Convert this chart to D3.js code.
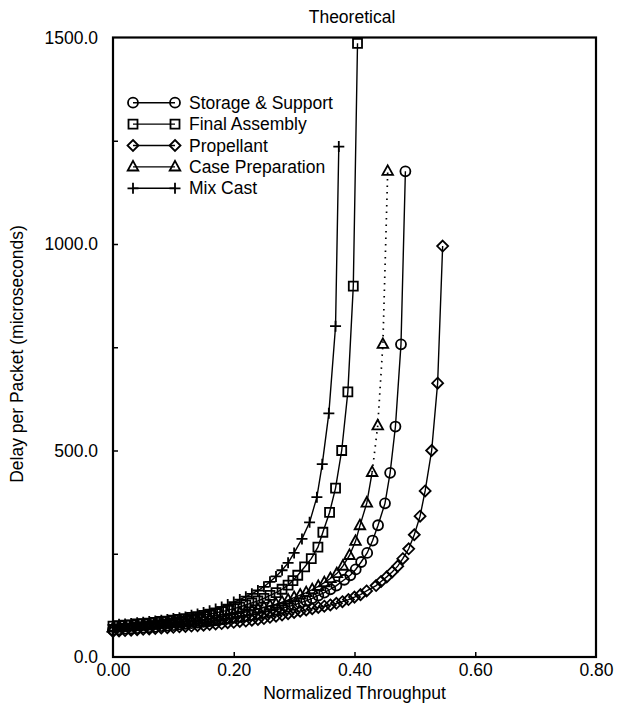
<!DOCTYPE html>
<html>
<head>
<meta charset="utf-8">
<script src="https://cdn.jsdelivr.net/npm/d3@7"></script>
<style>
  body { margin: 0; background: #fff; }
  text { font-family: "Liberation Sans", Arial, Helvetica, sans-serif; fill: #000; }
</style>
</head>
<body>
<svg id="chart" width="618" height="709"></svg>
<script>
// ---------------- DATA ----------------
const chartTitle = "Theoretical";
const xAxisTitle = "Normalized Throughput";
const yAxisTitle = "Delay per Packet (microseconds)";
const seriesNames = ["Storage & Support", "Final Assembly", "Propellant", "Case Preparation", "Mix Cast"];
const xTickValues = [0.0, 0.2, 0.4, 0.6, 0.8];
const yTickValues = [0, 250, 500, 750, 1000, 1250, 1500];
const yLabelValues = [0, 500, 1000, 1500];

// Storage & Support
const xStorage = [0.00,0.01,0.02,0.03,0.04,0.05,0.06,0.07,0.08,0.09,0.10,0.11,0.12,0.13,0.14,0.15,0.16,0.17,0.18,0.19,
  0.20,0.21,0.22,0.23,0.24,0.25,0.26,0.27,0.28,0.29,0.30,0.31,0.32,0.33,0.34,0.35,0.36,0.37,
  0.383,0.393,0.402,0.411,0.421,0.430,0.439,0.4505,0.459,0.4678,0.477,0.4843];
const yStorage = [66,67,68,69,70,71,72,73,75,76,77,79,80,82,83,85,87,89,91,93,
  95,97,100,102,105,108,111,114,118,122,126,131,136,142,149,156,164,173,
  187,198,212,230,252,282,319,372,446,558,757,1176];

// Final Assembly
const xFinal = [0.00,0.01,0.02,0.03,0.04,0.05,0.06,0.07,0.08,0.09,0.10,0.11,0.12,0.13,0.14,0.15,0.16,0.17,0.18,0.19,
  0.20,0.21,0.22,0.23,0.24,0.25,0.26,0.27,0.28,0.29,
  0.298,0.306,0.3174,0.3284,0.3394,0.3476,0.3587,0.3686,0.3788,0.389,0.398,0.405];
const yFinal = [75,76,77,78,80,81,82,84,86,87,89,91,93,96,98,101,104,107,110,113,
  117,121,126,131,136,142,149,156,164,174,
  185,198,218,238,266,302,350,409,500,642,898,1486];

// Propellant
const xPropellant = [0.00,0.01,0.02,0.03,0.04,0.05,0.06,0.07,0.08,0.09,0.10,0.11,0.12,0.13,0.14,0.15,0.16,0.17,0.18,0.19,
  0.20,0.21,0.22,0.23,0.24,0.25,0.26,0.27,0.28,0.29,0.30,0.31,0.32,0.33,0.34,0.35,0.36,0.37,0.38,0.39,0.40,0.41,0.42,
  0.4358,0.444,0.4534,0.4623,0.4716,0.480,0.4898,0.499,0.5086,0.517,0.5278,0.5377,0.546];
const yPropellant = [62,63,64,65,66,67,68,69,70,71,72,73,74,75,76,77,79,80,81,83,
  84,86,87,89,91,93,96,99,102,105,108,111,114,117,120,123,126,130,134,139,145,151,160,
  173,183,194,206,220,238,262,296,341,402,500,663,995];

// Case Preparation
const xCase = [0.00,0.01,0.02,0.03,0.04,0.05,0.06,0.07,0.08,0.09,0.10,0.11,0.12,0.13,0.14,0.15,0.16,0.17,0.18,0.19,
  0.20,0.21,0.22,0.23,0.24,0.25,0.26,0.27,0.28,0.29,0.30,0.31,0.32,0.33,0.34,0.35,0.36,
  0.3707,0.3807,0.3917,0.4017,0.409,0.4204,0.4292,0.4385,0.447,0.455];
const yCase = [70,71,72,73,74,75,76,78,79,81,82,84,86,87,89,91,93,96,98,101,
  103,106,109,112,116,120,124,128,133,138,144,150,156,163,171,180,190,
  202,220,246,280,318,373,447,560,757,1176];

// Mix Cast
const xMix = [0.00,0.01,0.02,0.03,0.04,0.05,0.06,0.07,0.08,0.09,0.10,0.11,0.12,0.13,0.14,0.15,0.16,0.17,0.18,0.19,
  0.20,0.21,0.22,0.23,0.24,0.25,0.26,0.27,0.28,0.29,0.30,
  0.313,0.3256,0.3377,0.3466,0.3575,0.3686,0.374];
const yMix = [78,79,80,81,83,84,86,87,89,91,93,95,97,101,104,108,112,116,121,127,
  133,139,146,153,161,170,182,195,210,228,252,
  286,326,387,467,590,801,1236];

// ---------------- DRAWING ----------------
const svg = d3.select("#chart");
const x = d3.scaleLinear().domain([0, 0.8]).range([113, 596]);
const y = d3.scaleLinear().domain([0, 1500]).range([657, 37.5]);
const FONT = 17.5;

const markerPaths = {
  circle: "M5,0A5,5 0 1,1 -5,0A5,5 0 1,1 5,0Z",
  square: "M-4.5,-4.5H4.5V4.5H-4.5Z",
  diamond: "M0,-5.5L5.5,0L0,5.5L-5.5,0Z",
  triangle: "M0,-6L5.3,3.6L-5.3,3.6Z",
  plus: "M-5.5,0H5.5M0,-5.5V5.5"
};

const series = [
  { name: seriesNames[0], xs: xStorage, ys: yStorage, marker: "circle" },
  { name: seriesNames[1], xs: xFinal, ys: yFinal, marker: "square" },
  { name: seriesNames[2], xs: xPropellant, ys: yPropellant, marker: "diamond" },
  { name: seriesNames[3], xs: xCase, ys: yCase, marker: "triangle", dottedTail: 3 },
  { name: seriesNames[4], xs: xMix, ys: yMix, marker: "plus" }
];

// Axes (inward ticks)
const xAxis = d3.axisBottom(x).tickValues(xTickValues).tickSize(-5).tickPadding(7)
  .tickFormat(d3.format(".2f"));
const yAxis = d3.axisLeft(y).tickValues(yTickValues).tickSize(-5).tickPadding(15)
  .tickFormat(d => yLabelValues.includes(d) ? d3.format(".1f")(d) : "");

const gx = svg.append("g").attr("transform", `translate(0,${y(0)})`).call(xAxis);
const gy = svg.append("g").attr("transform", `translate(${x(0)},0)`).call(yAxis);
[gx, gy].forEach(g => {
  g.select(".domain").remove();
  g.selectAll(".tick line").attr("stroke", "#000").attr("stroke-width", 1.5);
  g.selectAll(".tick text").attr("font-size", FONT)
    .attr("font-family", '"Liberation Sans", Arial, sans-serif').attr("fill", "#000");
});
gx.selectAll(".tick line").filter(d => d === 0 || d === 0.8).remove();
gy.selectAll(".tick line").filter(d => d === 0 || d === 1500).remove();

// Frame
svg.append("rect")
  .attr("x", x(0)).attr("y", y(1500))
  .attr("width", x(0.8) - x(0)).attr("height", y(0) - y(1500))
  .attr("fill", "none").attr("stroke", "#000").attr("stroke-width", 2.2);

// Titles
svg.append("text").attr("x", 352).attr("y", 23).attr("text-anchor", "middle")
  .attr("font-size", FONT).text(chartTitle);
svg.append("text").attr("x", (x(0) + x(0.8)) / 2).attr("y", 699).attr("text-anchor", "middle")
  .attr("font-size", FONT).text(xAxisTitle);
svg.append("text").attr("transform", "translate(23,354) rotate(-90)").attr("text-anchor", "middle")
  .attr("font-size", FONT).text(yAxisTitle);

// Series
const line = d3.line().x(d => x(d[0])).y(d => y(d[1]));
series.forEach(s => {
  const pts = s.xs.map((v, i) => [v, s.ys[i]]);
  const g = svg.append("g");
  if (s.dottedTail) {
    const k = pts.length - 1 - s.dottedTail;
    g.append("path").attr("d", line(pts.slice(0, k + 1)))
      .attr("fill", "none").attr("stroke", "#000").attr("stroke-width", 1.4);
    g.append("path").attr("d", line(pts.slice(k)))
      .attr("fill", "none").attr("stroke", "#000").attr("stroke-width", 1.7)
      .attr("stroke-dasharray", "1.5,5");
  } else {
    g.append("path").attr("d", line(pts))
      .attr("fill", "none").attr("stroke", "#000").attr("stroke-width", 1.4);
  }
  g.selectAll("path.m").data(pts).enter().append("path").attr("class", "m")
    .attr("d", markerPaths[s.marker])
    .attr("transform", d => `translate(${x(d[0])},${y(d[1])})`)
    .attr("fill", "none").attr("stroke", "#000").attr("stroke-width", 1.8);
});

// Legend
const legend = svg.append("g");
series.forEach((s, i) => {
  const ly = 102.7 + i * 21.4;
  legend.append("line").attr("x1", 133).attr("x2", 175).attr("y1", ly).attr("y2", ly)
    .attr("stroke", "#000").attr("stroke-width", 1.4);
  [133, 175].forEach(lx => {
    legend.append("path").attr("d", markerPaths[s.marker])
      .attr("transform", `translate(${lx},${ly})`)
      .attr("fill", "none").attr("stroke", "#000").attr("stroke-width", 1.8);
  });
  legend.append("text").attr("x", 189).attr("y", ly).attr("dy", "0.35em")
    .attr("font-size", FONT).text(s.name);
});
</script>
</body>
</html>
